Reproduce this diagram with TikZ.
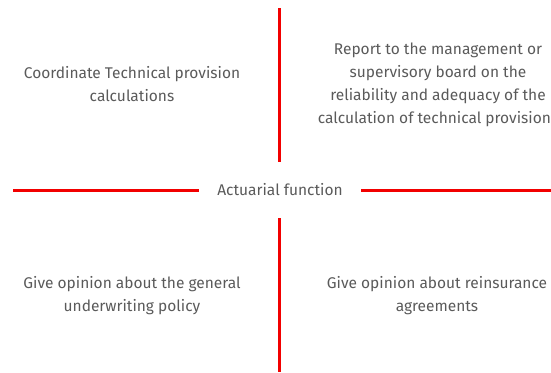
\documentclass[tikz,border=0pt]{standalone}
\usepackage{fontspec}
\setmainfont{Fira Sans}
\definecolor{afred}{HTML}{F20000}
\definecolor{aftext}{HTML}{5A5A5A}

\begin{document}
\begin{tikzpicture}[x = 1pt, y = -1pt,
  task/.style = {text = aftext, align = center, font = \fontsize{15.5}{23}\selectfont, inner sep = 0pt},
  bar/.style = {draw = afred, line width = 3pt}]
            \clip (0,0) rectangle (551,372);
            \useasboundingbox (0,0) rectangle (551,372);
            \node[task] (af) at (280,190) {Actuarial function};
            \node[task] (coord) at (132,84.5) {Coordinate Technical provision\\calculations};
            \node[task] (report) at (438,84.5) {Report to the management or\\supervisory board on the\\reliability and adequacy of the\\calculation of technical provisions};
            \node[task] (underwriting) at (132,296) {Give opinion about the general\\underwriting policy};
            \node[task] (reinsurance) at (437,296) {Give opinion about reinsurance\\agreements};
            \coordinate (top) at (279,8);
            \coordinate (bottom) at (279,372);
            \coordinate (left) at (13,190);
            \coordinate (right) at (551,190);
            \draw[bar] (top) -- (279,162);
            \draw[bar] (279,218) -- (bottom);
            \draw[bar] (left) -- (199,190);
            \draw[bar] (361,190) -- (right);
        \end{tikzpicture}
\end{document}
